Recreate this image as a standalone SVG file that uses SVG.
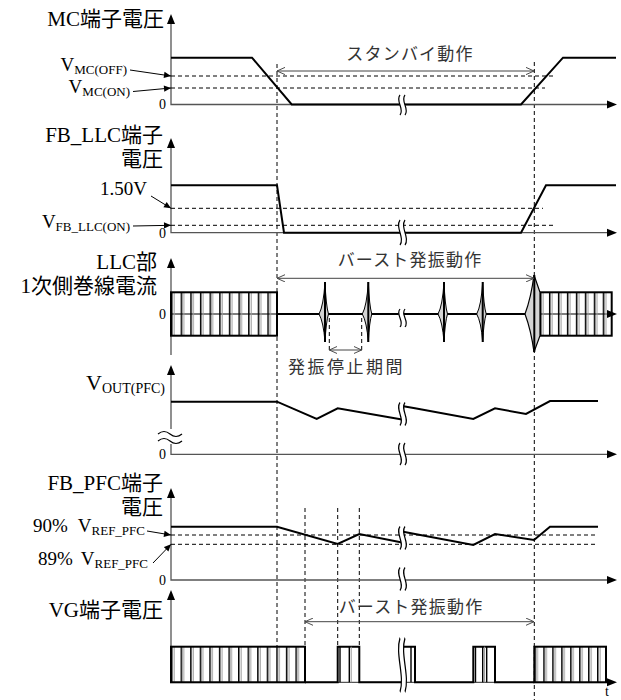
<svg xmlns="http://www.w3.org/2000/svg" width="621" height="700" viewBox="0 0 621 700">
<style>
.lbl{font-family:"Liberation Serif","Noto Sans CJK JP",serif;font-size:21px;fill:#000}
.sm{font-family:"Liberation Serif",serif;font-size:19px;fill:#000}
.sub{font-size:13px}
.zero{font-family:"Liberation Serif",serif;font-size:14px;fill:#000}
.ann{font-family:"Noto Sans CJK JP",sans-serif;font-size:17px;fill:#333;letter-spacing:1.2px}
.ax{stroke:#555;stroke-width:1.3;fill:none}
.sig{stroke:#000;stroke-width:2;fill:none;stroke-linejoin:miter}
.dash{stroke:#000;stroke-width:1;stroke-dasharray:4 3;fill:none}
.ptr{stroke:#000;stroke-width:1;fill:none;marker-end:url(#fa)}
.span{stroke:#444;stroke-width:1;fill:none;marker-start:url(#oa);marker-end:url(#oa)}
.brk{stroke:#000;stroke-width:1.2;fill:none}
</style>
<defs>
<marker id="fa" viewBox="0 0 10 10" refX="10" refY="5" markerWidth="8" markerHeight="7" markerUnits="userSpaceOnUse" orient="auto"><path d="M0,0.5 L10,5 L0,9.5 Z" fill="#000"/></marker>
<marker id="oa" viewBox="0 0 10 10" refX="10" refY="5" markerWidth="8" markerHeight="8" markerUnits="userSpaceOnUse" orient="auto-start-reverse"><path d="M0,0.5 L10,5 L0,9.5" fill="none" stroke="#444" stroke-width="1.2"/></marker>
<pattern id="p1" patternUnits="userSpaceOnUse" x="171" y="0" width="9.636" height="700"><rect x="0" y="0" width="1.5" height="700" fill="#000"/><rect x="2.6" y="0" width="1" height="700" fill="#999"/></pattern>
<pattern id="p2" patternUnits="userSpaceOnUse" x="171" y="0" width="9.571" height="700"><rect x="0" y="0" width="1.5" height="700" fill="#000"/><rect x="2.6" y="0" width="1" height="700" fill="#999"/></pattern>
<pattern id="p3" patternUnits="userSpaceOnUse" x="540" y="0" width="8.96" height="700"><rect x="0" y="0" width="1.5" height="700" fill="#000"/><rect x="2.6" y="0" width="1" height="700" fill="#999"/></pattern>
<pattern id="p4" patternUnits="userSpaceOnUse" x="534.3" y="0" width="8.96" height="700"><rect x="0" y="0" width="1.5" height="700" fill="#000"/><rect x="2.6" y="0" width="1" height="700" fill="#999"/></pattern>
<g id="bk">
<path d="M2,-10 C-3,-4 7,4 2,10 L7,10 C12,4 2,-4 7,-10 Z" fill="#fff" stroke="none"/>
<path d="M2,-10 C-3,-4 7,4 2,10 M7,-10 C2,-4 12,4 7,10" class="brk"/>
</g>
<g id="sp">
<path d="M0,-32 Q-1.5,-8 -6,0 Q-1.5,8 0,28 Q1,8 3.5,0 Q1,-8 0,-32 Z" fill="#d4d4d4" stroke="#000" stroke-width="1"/>
<line x1="0" y1="-32" x2="0" y2="28" stroke="#000" stroke-width="2"/>
</g>
</defs>
<rect width="621" height="700" fill="#fff"/>

<!-- global dashed verticals -->
<g id="guides">
<line class="dash" x1="277" y1="64" x2="277" y2="647"/>
<line class="dash" x1="534.3" y1="62" x2="534.3" y2="700"/>
<line class="dash" x1="305" y1="508" x2="305" y2="647"/>
<line class="dash" x1="337.7" y1="508" x2="337.7" y2="647"/>
<line class="dash" x1="359.3" y1="508" x2="359.3" y2="647"/>
</g>

<!-- MC panel -->
<g id="mc">
<path class="ax" d="M171,24 V104.5 H607"/>
<polygon points="171,14 167,24 175,24" fill="#000"/>
<polygon points="617,104.5 607,100.5 607,108.5" fill="#000"/>
<line class="dash" x1="171" y1="76" x2="555" y2="76"/>
<line class="dash" x1="171" y1="88" x2="545" y2="88"/>
<polyline class="sig" points="171,57.7 252,57.7 291.7,104.5 521,104.5 563,57.7 616,57.7"/>
<use href="#bk" transform="translate(398,105)"/>
<text class="lbl" x="164" y="26" text-anchor="end">MC端子電圧</text>
<text class="sm" x="127" y="70.5" text-anchor="end">V<tspan class="sub" dy="3">MC(OFF)</tspan></text>
<text class="sm" x="130" y="93" text-anchor="end">V<tspan class="sub" dy="3">MC(ON)</tspan></text>
<line class="ptr" x1="130" y1="70" x2="171" y2="76"/>
<line class="ptr" x1="133" y1="91.5" x2="171" y2="88"/>
<text class="zero" x="166" y="109" text-anchor="end">0</text>
<line class="span" x1="277" y1="71" x2="534" y2="71"/>
<text class="ann" x="410" y="60" text-anchor="middle">スタンバイ動作</text>
</g>

<!-- FB_LLC panel -->
<g id="fbllc">
<path class="ax" d="M171,148 V232.7 H607"/>
<polygon points="171,138 167,148 175,148" fill="#000"/>
<polygon points="617,232.7 607,228.7 607,236.7" fill="#000"/>
<line class="dash" x1="171" y1="208.3" x2="543" y2="208.3"/>
<line class="dash" x1="171" y1="225.3" x2="556" y2="225.3"/>
<polyline class="sig" points="171,185.3 277,185.3 284,232.7 521,232.7 546,185.3 616,185.3"/>
<use href="#bk" transform="translate(398,232.5) scale(1,1.25)"/>
<text class="lbl" x="163" y="142" text-anchor="end">FB_LLC端子</text>
<text class="lbl" x="163" y="166" text-anchor="end">電圧</text>
<text class="sm" x="147" y="195" text-anchor="end">1.50V</text>
<text class="sm" x="130" y="228" text-anchor="end">V<tspan class="sub" dy="3">FB_LLC(ON)</tspan></text>
<line class="ptr" x1="151" y1="196" x2="171" y2="208.3"/>
<line class="ptr" x1="133" y1="226" x2="171" y2="225.3"/>
<text class="zero" x="166" y="238" text-anchor="end">0</text>
</g>

<!-- LLC panel -->
<g id="llc">
<path class="ax" d="M171,268 V355"/>
<path class="ax" d="M171,314 H607"/>
<polygon points="171,258 167,268 175,268" fill="#000"/>
<polygon points="617,314 607,310 607,318" fill="#000"/>
<rect x="171" y="292.3" width="106" height="43.4" fill="url(#p1)" stroke="#000" stroke-width="2"/>
<line class="sig" x1="277" y1="314" x2="525" y2="314"/>
<use href="#sp" x="325" y="314"/>
<use href="#sp" x="368.3" y="314"/>
<use href="#sp" x="444" y="314"/>
<use href="#sp" x="482.7" y="314"/>
<rect x="540" y="292.3" width="71.7" height="43.4" fill="url(#p3)" stroke="#000" stroke-width="2"/>
<path d="M525,314 Q531,298 534,275 L540,292.3 L540,335.7 L534,352 Q531,330 525,314 Z" fill="#d4d4d4" stroke="#000" stroke-width="1.2"/>
<line x1="534.3" y1="275" x2="534.3" y2="352" stroke="#000" stroke-width="2"/>
<use href="#bk" transform="translate(398,318) scale(1,0.9)"/>
<text class="lbl" x="157" y="269" text-anchor="end">LLC部</text>
<text class="lbl" x="157" y="293" text-anchor="end">1次側巻線電流</text>
<text class="zero" x="166" y="319" text-anchor="end">0</text>
<line class="span" x1="277" y1="278.3" x2="534" y2="278.3"/>
<text class="ann" x="410" y="266" text-anchor="middle">バースト発振動作</text>
<line class="dash" x1="329.3" y1="318" x2="329.3" y2="353"/>
<line class="dash" x1="361.7" y1="318" x2="361.7" y2="353"/>
<line class="span" x1="329.3" y1="350" x2="361.7" y2="350"/>
<text class="ann" x="288" y="373" style="letter-spacing:2.5px">発振停止期間</text>
</g>

<!-- VOUT panel -->
<g id="vout">
<path class="ax" d="M171,375 V454.3 H607"/>
<polygon points="171,365 167,375 175,375" fill="#000"/>
<polygon points="617,454.3 607,450.3 607,458.3" fill="#000"/>
<rect x="158" y="429" width="25" height="15" fill="#fff"/>
<path d="M158,434 q6,-5 12,0 t12,0 M158,441 q6,-5 12,0 t12,0" class="brk" stroke-width="1.5"/>
<polyline class="sig" points="171,401.7 277,401.7 316.7,419 337.7,408.3 402,419.5"/>
<polyline class="sig" points="402,406 415,408.3 473.3,419 495,408.3 526,414 550,401 598,401"/>
<use href="#bk" transform="translate(398,414) scale(1,1.15)"/>
<use href="#bk" transform="translate(398,454) scale(1,1.1)"/>
<text class="lbl" x="165" y="390" text-anchor="end" style="font-size:22px">V<tspan style="font-size:14px" dy="3">OUT(PFC)</tspan></text>
<text class="zero" x="166" y="459" text-anchor="end">0</text>
</g>

<!-- FB_PFC panel -->
<g id="fbpfc">
<path class="ax" d="M171,498 V580 H607"/>
<polygon points="171,488 167,498 175,498" fill="#000"/>
<polygon points="617,580 607,576 607,584" fill="#000"/>
<line class="dash" x1="171" y1="535" x2="597" y2="535"/>
<line class="dash" x1="171" y1="544.3" x2="597" y2="544.3"/>
<polyline class="sig" points="171,526.7 277,526.7 337.7,544 359.3,534 402,542.4"/>
<polyline class="sig" points="402,531.5 415,534 473.3,545 495,534 534,540 550,526.7 598,526.7"/>
<use href="#bk" transform="translate(398,538) scale(1,1.15)"/>
<use href="#bk" transform="translate(398,579) scale(1,1.15)"/>
<text class="lbl" x="163" y="490" text-anchor="end">FB_PFC端子</text>
<text class="lbl" x="163" y="514" text-anchor="end">電圧</text>
<text class="sm" x="33" y="532">90%</text>
<text class="sm" x="145" y="532" text-anchor="end">V<tspan class="sub" dy="3">REF_PFC</tspan></text>
<text class="sm" x="38" y="565">89%</text>
<text class="sm" x="148" y="565" text-anchor="end">V<tspan class="sub" dy="3">REF_PFC</tspan></text>
<line class="ptr" x1="147" y1="531" x2="171" y2="535"/>
<line class="ptr" x1="153" y1="563" x2="171" y2="544.3"/>
<text class="zero" x="166" y="585" text-anchor="end">0</text>
</g>

<!-- VG panel -->
<g id="vg">
<path class="ax" d="M171,600 V682.3 H607"/>
<polygon points="171,590 167,600 175,600" fill="#000"/>
<polygon points="617,682.3 607,678.3 607,686.3" fill="#000"/>
<rect x="171" y="646.7" width="134" height="35.6" fill="url(#p2)" stroke="#000" stroke-width="2"/>
<polyline class="sig" points="305,682.3 337.7,682.3 337.7,646.7 359.3,646.7 359.3,682.3 402,682.3"/>
<path d="M340,646.7 V682.3 M349.3,646.7 V682.3" stroke="#000" stroke-width="1.4"/>
<path d="M351.2,646.7 V682.3" stroke="#999" stroke-width="1"/>
<polyline class="sig" points="402,646.7 415,646.7 415,682.3 473.3,682.3 473.3,646.7 495,646.7 495,682.3 534.3,682.3"/>
<path d="M411,646.7 V682.3 M475.5,646.7 V682.3 M482.7,646.7 V682.3 M486.7,646.7 V682.3" stroke="#000" stroke-width="1.4"/>
<path d="M484.6,646.7 V682.3" stroke="#999" stroke-width="1"/>
<rect x="534.3" y="646.7" width="71.7" height="35.6" fill="url(#p4)" stroke="#000" stroke-width="2"/>
<use href="#bk" transform="translate(398,665) scale(1,2.7)"/>
<text class="lbl" x="163" y="617" text-anchor="end">VG端子電圧</text>
<line class="span" x1="305" y1="621.7" x2="534" y2="621.7"/>
<text class="ann" x="411" y="613" text-anchor="middle">バースト発振動作</text>
<text class="zero" x="605" y="696">t</text>
</g>
</svg>
